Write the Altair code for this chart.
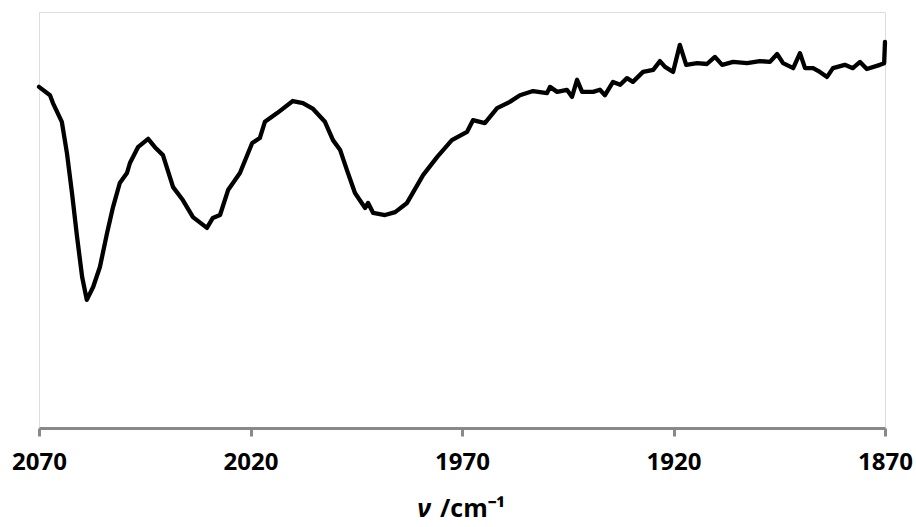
import altair as alt
import pandas as pd

wavenumber = [2070.0, 2067.4, 2066.7, 2064.6, 2063.4, 2062.2, 2061.0, 2059.8, 2058.7, 2057.2,
              2055.6, 2053.9, 2052.5, 2050.9, 2049.2, 2048.5, 2046.6, 2044.2, 2042.6, 2040.7,
              2038.3, 2036.0, 2033.6, 2030.3, 2028.9, 2027.2, 2025.3, 2022.5, 2019.6, 2017.8,
              2016.6, 2013.7, 2010.0, 2007.6, 2005.2, 2002.4, 2000.5, 1998.8, 1997.2, 1995.3,
              1992.9, 1992.2, 1991.0, 1988.2, 1985.8, 1983.0, 1979.2, 1975.9, 1972.4, 1968.8,
              1967.4, 1964.6, 1961.7, 1958.7, 1956.3, 1953.2, 1949.9, 1949.2, 1947.5, 1945.2,
              1944.0, 1942.8, 1941.6, 1939.0, 1937.4, 1936.2, 1934.3, 1932.6, 1931.0, 1929.6,
              1927.2, 1924.8, 1923.2, 1922.0, 1920.1, 1918.5, 1917.0, 1914.4, 1912.1, 1910.2,
              1908.5, 1905.9, 1902.6, 1899.6, 1897.2, 1895.5, 1894.1, 1891.7, 1890.1, 1888.9,
              1887.0, 1885.4, 1883.7, 1882.3, 1879.5, 1877.6, 1875.9, 1874.3, 1871.2, 1870.2,
              1870.0]
transmittance = [82.0, 80.0, 78.1, 73.6, 66.1, 56.5, 45.9, 36.3, 30.8, 33.9,
                 38.7, 46.9, 53.1, 58.9, 61.3, 63.7, 67.5, 69.5, 67.5, 65.6,
                 57.9, 54.8, 50.7, 48.1, 50.5, 51.2, 57.2, 61.3, 68.5, 69.7,
                 73.6, 75.7, 78.6, 78.1, 76.7, 73.6, 69.2, 66.8, 62.0, 56.5,
                 52.9, 54.1, 51.7, 51.2, 51.9, 54.1, 60.8, 65.1, 69.2, 71.2,
                 74.0, 73.3, 76.9, 78.4, 80.0, 81.0, 80.5, 82.0, 80.8, 81.3,
                 79.6, 83.7, 80.8, 80.8, 81.3, 80.0, 83.2, 82.5, 84.1, 83.2,
                 85.6, 86.1, 88.2, 86.8, 85.6, 92.1, 87.3, 87.7, 87.5, 89.2,
                 87.3, 88.0, 87.7, 88.2, 88.0, 89.9, 87.7, 86.5, 90.1, 86.5,
                 86.5, 85.6, 84.4, 86.5, 87.3, 86.5, 88.0, 86.3, 87.3, 87.7,
                 92.8]
tick_values = [2070, 2020, 1970, 1920, 1870]

df = pd.DataFrame({"v": wavenumber, "T": transmittance, "i": list(range(len(wavenumber)))})

W, H = 846, 416

line = alt.Chart(df).mark_line(color="black", strokeWidth=4.3, strokeJoin="round", strokeCap="round").encode(
    x=alt.X("v:Q",
            scale=alt.Scale(domain=[1870, 2070], reverse=True, nice=False, zero=False),
            axis=alt.Axis(values=tick_values, format="d", title=None,
                          labelFont="Open Sans", labelFontWeight="bold", labelFontSize=24,
                          labelColor="black", labelPadding=14, labelFlush=False,
                          domainColor="#898989", domainWidth=3,
                          tickColor="#898989", tickWidth=3, tickSize=8,
                          grid=False)),
    y=alt.Y("T:Q", scale=alt.Scale(domain=[0, 100], nice=False), axis=None),
    order="i:Q",
)

title_nu = alt.Chart(df).mark_text(
    text="ν", font="Open Sans", fontSize=25, fontStyle="italic", fontWeight="bold",
    align="right", baseline="alphabetic", color="black"
).encode(x=alt.value(392), y=alt.value(H + 89))

title_rest = alt.Chart(df).mark_text(
    text="/cm⁻¹", font="Open Sans", fontSize=25, fontWeight="bold",
    align="left", baseline="alphabetic", color="black"
).encode(x=alt.value(401), y=alt.value(H + 89))

chart = alt.layer(line, title_nu.transform_filter("datum.i == 0"),
                  title_rest.transform_filter("datum.i == 0")).properties(
    width=W, height=H,
    autosize=alt.AutoSizeParams(type="none"),
    padding={"left": 39, "top": 12, "right": 31, "bottom": 99},
).configure_view(stroke="#BFBFBF", strokeWidth=1).configure(background="white")

chart.save("out.html", embed_options={"renderer": "svg", "actions": False})
